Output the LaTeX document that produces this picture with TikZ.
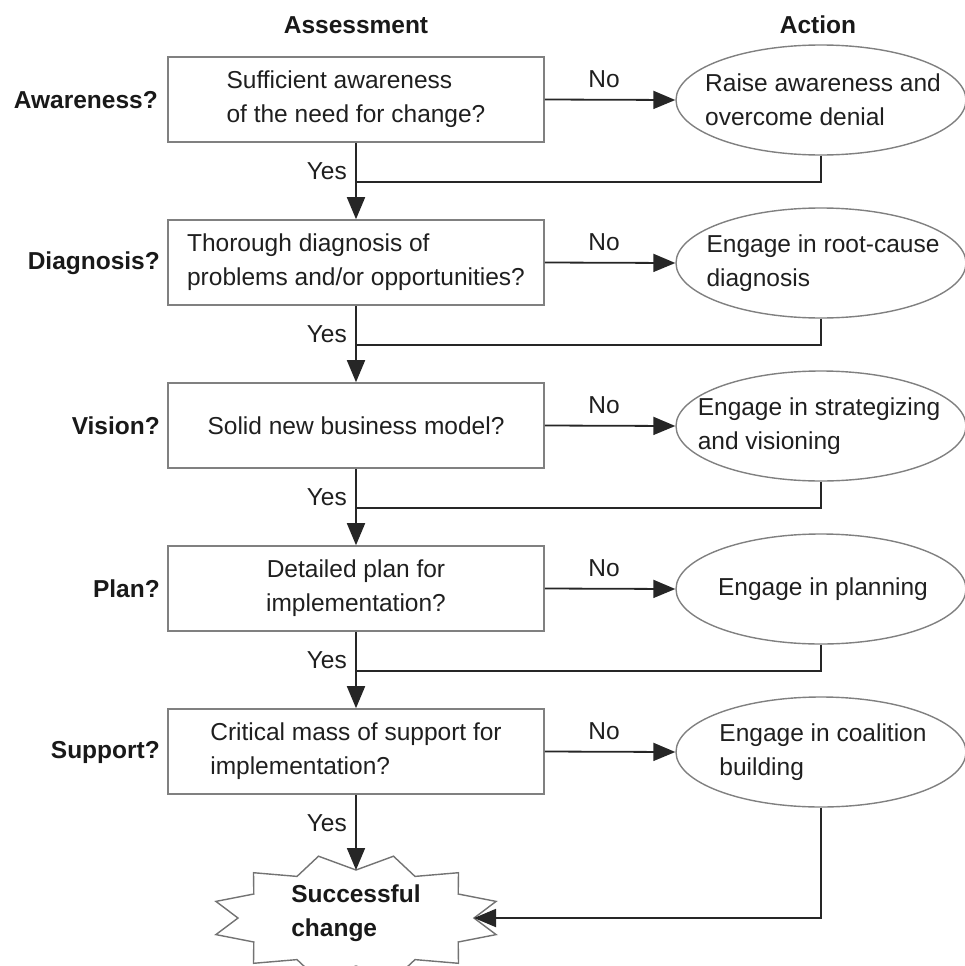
\documentclass[tikz,border=0pt]{standalone}
\usepackage{fontspec}
\setmainfont{Liberation Sans}
\usetikzlibrary{arrows.meta,shapes.geometric}
\begin{document}
\begin{tikzpicture}[x=1pt,y=-1pt,
  txt/.style={font=\fontsize{24.5}{34}\selectfont, text=black!88, inner sep=0pt},
  hdr/.style={font=\fontsize{24.5}{34}\selectfont\bfseries, text=black!90, inner sep=0pt},
  abox/.style={draw=black!50, line width=1.6pt, minimum width=376pt, minimum height=85pt, inner sep=0pt, align=left, font=\fontsize{24.5}{34}\selectfont, text=black!88},
  act/.style={ellipse, draw=black!50, line width=1.4pt, minimum width=290pt, minimum height=110pt, inner sep=0pt},
  flow/.style={line width=1.8pt, draw=black!85},
  arr/.style={flow, -{Triangle[length=22pt,width=18pt]}},
  burst/.style={draw=black!55, line width=1.4pt, fill=white, line join=miter},
]
\useasboundingbox (0,0) rectangle (965,966);

% headers
\node[hdr] (hA) at (356,25) {Assessment};
\node[hdr] (hB) at (818,25) {Action};

% assessment boxes
\node[abox] (b1) at (356,99.5) {Sufficient awareness\\of the need for change?};
\node[abox] (b2) at (356,262.5) {Thorough diagnosis of\\problems and/or opportunities?};
\node[abox] (b3) at (356,425.5) {Solid new business model?};
\node[abox, align=center] (b4) at (356,588.5) {Detailed plan for\\implementation?};
\node[abox] (b5) at (356,751.5) {Critical mass of support for\\implementation?};

% row labels
\node[hdr, anchor=east] (l1) at (158,100) {Awareness?};
\node[hdr, anchor=east] (l2) at (160,263) {Diagnosis?};
\node[hdr, anchor=east] (l3) at (160,426) {Vision?};
\node[hdr, anchor=east] (l4) at (160,589) {Plan?};
\node[hdr, anchor=east] (l5) at (160,752) {Support?};

% action ellipses
\node[act] (e1) at (821,100) {};
\node[act] (e2) at (821,263) {};
\node[act] (e3) at (821,426) {};
\node[act] (e4) at (821,589) {};
\node[act] (e5) at (821,752) {};
\node[txt, align=left] (t1) at (823,100) {Raise awareness and\\overcome denial};
\node[txt, align=left] (t2) at (823,263) {Engage in root-cause\\diagnosis};
\node[txt, align=left] (t3) at (819,426) {Engage in strategizing\\and visioning};
\node[txt] (t4) at (823,589) {Engage in planning};
\node[txt, align=left] (t5) at (823,752) {Engage in coalition\\building};

% No arrows
\foreach \i/\y in {1/79,2/242,3/405,4/568,5/731}{
  \draw[arr] (b\i.east) -- (e\i.west);
  \node[txt] (no\i) at (604,\y) {No};
}

% junctions
\coordinate (j1) at (356,182);
\coordinate (j2) at (356,345);
\coordinate (j3) at (356,508);
\coordinate (j4) at (356,671);

% Yes arrows and returns
\foreach \i/\n/\y in {1/2/171.5,2/3/334.5,3/4/497.5,4/5/660.5}{
  \draw[arr] (b\i.south) -- (b\n.north);
  \draw[flow] (e\i.south) |- (j\i);
  \node[txt, anchor=east] (yes\i) at (347,\y) {Yes};
}

% starburst
\draw[burst] (474,918) -- (496.1,901.4) -- (458.2,894) -- (458.5,872.7) -- (415,876.4) -- (393.5,856.2) -- (356,870) -- (318.5,856.2) -- (297,876.4) -- (253.5,872.7) -- (253.8,894) -- (215.9,901.4) -- (238,918) -- (215.9,934.6) -- (253.8,942) -- (253.5,963.3) -- (297,959.6) -- (318.5,979.8) -- (356,966) -- (393.5,979.8) -- (415,959.6) -- (458.5,963.3) -- (458.2,942) -- (496.1,934.6) -- cycle;
\coordinate (sTop) at (356,870);
\coordinate (sRight) at (474,918);
\node[hdr, align=left] (st) at (356,913) {Successful\\change};

\draw[arr] (b5.south) -- (sTop);
\node[txt, anchor=east] (yes5) at (347,823.5) {Yes};
\draw[arr] (e5.south) |- (sRight);
\end{tikzpicture}
\end{document}
